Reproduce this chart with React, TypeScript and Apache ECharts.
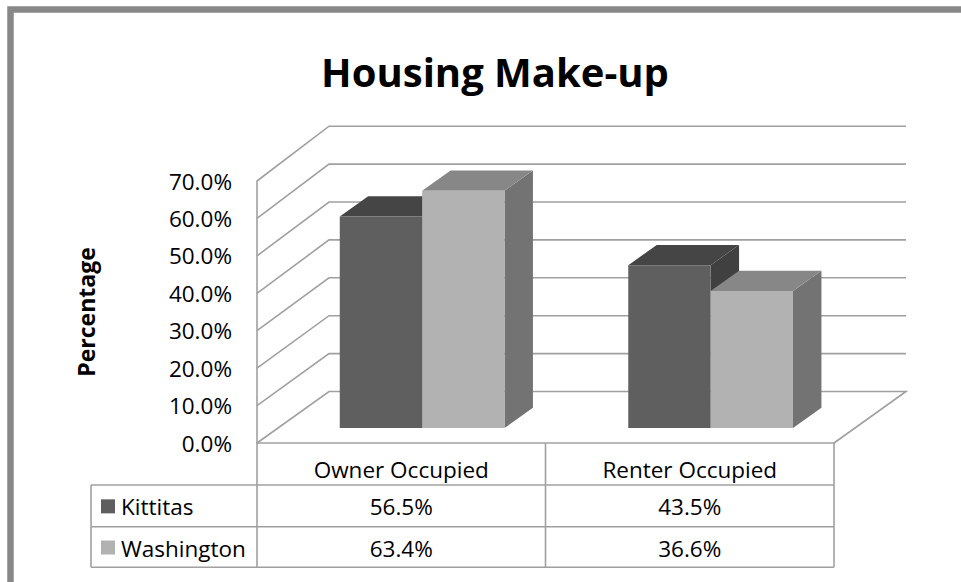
import React, { useEffect, useRef } from 'react';
import * as echarts from 'echarts';

// ---- data ----
const categories = ['Owner Occupied', 'Renter Occupied'];
const seriesNames = ['Kittitas', 'Washington'];
const kittitas = [56.5, 43.5];
const washington = [63.4, 36.6];
const yTicks = [0, 10, 20, 30, 40, 50, 60, 70];

// ---- layout / style ----
const FONT = "'Open Sans', 'Noto Sans', sans-serif";
const FS = 22.5;
const GRID = { left: 257, top: 181, width: 577, height: 262 };
const DX = 72; // full depth offset of the 3D box
const DY = -51.5;
const BACK_K = 1.0126;
const T1 = 0.29; // depth of bar front face
const T2 = 0.685; // depth of bar back face
const BAR_FRAC = 0.2855;
const LINE = '#a0a0a0';
const COLORS = [
  { front: '#5f5f5f', top: '#454545', side: '#404040' },
  { front: '#b2b2b2', top: '#878787', side: '#737373' },
];
const TABLE = { left: 91, headerTop: 443, rowTops: [485, 526.7], bottom: 567.3 };

export default function App() {
  const ref = useRef<HTMLDivElement>(null);

  useEffect(() => {
    const chart = echarts.init(ref.current!, null, { renderer: 'svg' });
    const seriesValues = [kittitas, washington];

    const wallSeries: any = {
      type: 'custom',
      silent: true,
      z: 1,
      data: yTicks.map((v) => [0, v]),
      renderItem: (params: any, api: any) => {
        const cs = params.coordSys;
        const v = api.value(1);
        const y0 = api.coord([0, 0])[1];
        const yF = api.coord([0, v])[1];
        const xL = cs.x;
        const xR = cs.x + cs.width;
        const yB = y0 + DY - (y0 - yF) * BACK_K;
        const pts: number[][] = [
          [xL, yF],
          [xL + DX, yB],
          [xR + DX, yB],
        ];
        if (v === 0) pts.push([xR, yF]);
        return {
          type: 'polyline',
          shape: { points: pts },
          style: { stroke: LINE, lineWidth: 1.6, fill: null },
        };
      },
    };

    const barSeries = seriesValues.map((vals, s) => ({
      type: 'custom',
      name: seriesNames[s],
      z: 2 + s,
      silent: true,
      data: vals.map((v, i) => [i, v]),
      renderItem: (params: any, api: any) => {
        const i = api.value(0);
        const v = api.value(1);
        const top = api.coord([i, v]);
        const base = api.coord([i, 0]);
        const band = api.size([1, 0])[0];
        const w = band * BAR_FRAC;
        const xL = top[0] + T1 * DX + (s === 0 ? -w : 0);
        const yB = base[1] + T1 * DY;
        const yT = top[1] + T1 * DY;
        const d = (T2 - T1) * DX;
        const e = (T2 - T1) * DY;
        const c = COLORS[s];
        return {
          type: 'group',
          children: [
            {
              type: 'polygon',
              shape: { points: [[xL + w, yT], [xL + w + d, yT + e], [xL + w + d, yB + e], [xL + w, yB]] },
              style: { fill: c.side },
            },
            {
              type: 'polygon',
              shape: { points: [[xL, yT], [xL + d, yT + e], [xL + w + d, yT + e], [xL + w, yT]] },
              style: { fill: c.top },
            },
            {
              type: 'rect',
              shape: { x: xL, y: yT, width: w, height: yB - yT },
              style: { fill: c.front },
            },
          ],
        };
      },
    }));

    // ---- data table ----
    const colW = GRID.width / categories.length;
    const xRight = GRID.left + GRID.width;
    const tableEls: any[] = [];
    const vline = (x: number, y1: number, y2: number) =>
      tableEls.push({ type: 'line', shape: { x1: x, y1, x2: x, y2 }, style: { stroke: LINE, lineWidth: 1.6 } });
    const hline = (y: number, x1: number, x2: number) =>
      tableEls.push({ type: 'line', shape: { x1, y1: y, x2, y2: y }, style: { stroke: LINE, lineWidth: 1.6 } });
    for (let k = 0; k <= categories.length; k++) vline(GRID.left + k * colW, TABLE.headerTop, TABLE.bottom);
    vline(TABLE.left, TABLE.rowTops[0], TABLE.bottom);
    [...TABLE.rowTops, TABLE.bottom].forEach((y) => hline(y, TABLE.left, xRight));
    categories.forEach((c, k) => {
      tableEls.push({
        type: 'text',
        x: GRID.left + (k + 0.5) * colW,
        y: (TABLE.headerTop + TABLE.rowTops[0]) / 2 + 5,
        style: { text: c, align: 'center', verticalAlign: 'middle', font: `${FS}px ${FONT}`, fill: '#000' },
      });
    });
    seriesNames.forEach((name, s) => {
      const yTop = TABLE.rowTops[s];
      const yBot = s + 1 < TABLE.rowTops.length ? TABLE.rowTops[s + 1] : TABLE.bottom;
      const yc = (yTop + yBot) / 2 + 1;
      tableEls.push({
        type: 'rect',
        shape: { x: TABLE.left + 10, y: yc - 7.5, width: 14, height: 14 },
        style: { fill: COLORS[s].front },
      });
      tableEls.push({
        type: 'text',
        x: TABLE.left + 30,
        y: yc,
        style: { text: name, align: 'left', verticalAlign: 'middle', font: `${FS}px ${FONT}`, fill: '#000' },
      });
      seriesValues[s].forEach((v, k) => {
        tableEls.push({
          type: 'text',
          x: GRID.left + (k + 0.5) * colW,
          y: yc,
          style: { text: v.toFixed(1) + '%', align: 'center', verticalAlign: 'middle', font: `${FS}px ${FONT}`, fill: '#000' },
        });
      });
    });

    const option: any = {
      animation: false,
      backgroundColor: '#fff',
      title: {
        text: 'Housing Make-up',
        left: 490,
        textAlign: 'center',
        top: 46,
        textStyle: { fontFamily: FONT, fontSize: 40, fontWeight: 'bold', color: '#000' },
      },
      grid: { left: GRID.left, top: GRID.top, width: GRID.width, height: GRID.height, containLabel: false },
      xAxis: {
        type: 'category',
        data: categories,
        axisLabel: { show: false },
        axisTick: { show: false },
        axisLine: { show: true, lineStyle: { color: LINE, width: 1.6 } },
      },
      yAxis: {
        type: 'value',
        min: 0,
        max: 70,
        interval: 10,
        splitLine: { show: false },
        axisTick: { show: false },
        axisLine: { show: true, lineStyle: { color: LINE, width: 1.6 } },
        axisLabel: {
          formatter: (v: number) => v.toFixed(1) + '%',
          fontFamily: FONT,
          fontSize: FS,
          color: '#000',
          margin: 25,
          padding: [7, 0, 0, 0],
        },
        name: 'Percentage',
        nameLocation: 'middle',
        nameGap: 160,
        nameRotate: 90,
        nameTextStyle: { fontFamily: FONT, fontSize: 23, fontWeight: 'bold', color: '#000' },
      },
      graphic: [
        {
          type: 'rect',
          shape: { x: 10.5, y: 9.5, width: 1100, height: 1000 },
          style: { fill: null, stroke: '#888888', lineWidth: 6.5 },
          silent: true,
        },
        { type: 'group', children: tableEls, silent: true },
      ],
      series: [wallSeries, ...barSeries],
    };
    chart.setOption(option);
    return () => chart.dispose();
  }, []);

  return (
    <div
      ref={ref}
      style={{ position: 'fixed', left: 0, top: 0, width: 961, height: 582, background: '#fff' }}
    />
  );
}
